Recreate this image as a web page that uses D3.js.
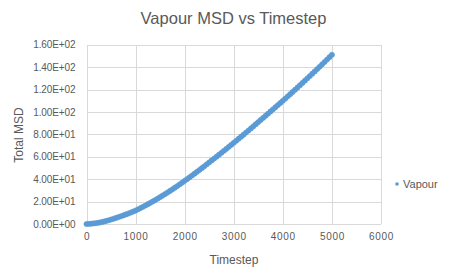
<!DOCTYPE html>
<html>
<head>
<meta charset="utf-8">
<script src="https://cdn.jsdelivr.net/npm/d3@7"></script>
<style>
  html, body { margin: 0; padding: 0; background: #ffffff; }
  svg { display: block; font-family: "Liberation Sans", Arial, sans-serif; }
</style>
</head>
<body>
<svg id="chart" width="467" height="278"></svg>
<script>
const chartTitle = "Vapour MSD vs Timestep";
const xAxisTitle = "Timestep";
const yAxisTitle = "Total MSD";
const seriesName = "Vapour";

const xTicks = [0, 1000, 2000, 3000, 4000, 5000, 6000];
const yTicks = [0, 20, 40, 60, 80, 100, 120, 140, 160];
const yTickLabels = ["0.00E+00", "2.00E+01", "4.00E+01", "6.00E+01", "8.00E+01",
                     "1.00E+02", "1.20E+02", "1.40E+02", "1.60E+02"];

const timesteps = [
  0, 50, 100, 150, 200, 250, 300, 350, 400, 450,
  500, 550, 600, 650, 700, 750, 800, 850, 900, 950,
  1000, 1050, 1100, 1150, 1200, 1250, 1300, 1350, 1400, 1450,
  1500, 1550, 1600, 1650, 1700, 1750, 1800, 1850, 1900, 1950,
  2000, 2050, 2100, 2150, 2200, 2250, 2300, 2350, 2400, 2450,
  2500, 2550, 2600, 2650, 2700, 2750, 2800, 2850, 2900, 2950,
  3000, 3050, 3100, 3150, 3200, 3250, 3300, 3350, 3400, 3450,
  3500, 3550, 3600, 3650, 3700, 3750, 3800, 3850, 3900, 3950,
  4000, 4050, 4100, 4150, 4200, 4250, 4300, 4350, 4400, 4450,
  4500, 4550, 4600, 4650, 4700, 4750, 4800, 4850, 4900, 4950,
  5000
];
const msd = [
  0, 0.12, 0.3, 0.52, 0.8, 1.17, 1.6, 2.12, 2.7, 3.33,
  4.0, 4.68, 5.4, 6.14, 6.9, 7.68, 8.5, 9.33, 10.2, 11.08,
  12.0, 13.08, 14.2, 15.33, 16.5, 17.68, 18.9, 20.13, 21.4, 22.68,
  24.0, 25.33, 26.7, 28.08, 29.5, 30.93, 32.4, 33.88, 35.4, 36.93,
  38.5, 40.06, 41.65, 43.26, 44.9, 46.54, 48.2, 49.86, 51.55, 53.26,
  55.0, 56.69, 58.4, 60.11, 61.85, 63.59, 65.35, 67.11, 68.9, 70.69,
  72.5, 74.29, 76.1, 77.91, 79.75, 81.59, 83.45, 85.31, 87.2, 89.09,
  91.0, 92.87, 94.75, 96.64, 98.55, 100.44, 102.35, 104.24, 106.15, 108.06,
  110.0, 111.94, 113.9, 115.86, 117.85, 119.84, 121.85, 123.86, 125.9, 127.94,
  130.0, 132.04, 134.1, 136.16, 138.25, 140.34, 142.45, 144.56, 146.7, 148.84,
  151.0
];

const svg = d3.select("#chart");
const plot = { left: 86.5, right: 381, top: 44.7, bottom: 224 };
const blue = "#5B9BD5";
const grid = "#D9D9D9";
const textCol = "#595959";

const x = d3.scaleLinear().domain([0, 6000]).range([plot.left, plot.right]);
const y = d3.scaleLinear().domain([0, 160]).range([plot.bottom, plot.top]);

// gridlines via axes
const yGrid = d3.axisLeft(y).tickValues(yTicks).tickSize(-(plot.right - plot.left)).tickFormat("");
svg.append("g").attr("transform", `translate(${plot.left},0)`).call(yGrid)
  .call(g => g.select(".domain").remove())
  .call(g => g.selectAll("line").attr("stroke", grid).attr("stroke-width", 1).attr("shape-rendering", "crispEdges"));

const xGrid = d3.axisBottom(x).tickValues(xTicks).tickSize(-(plot.bottom - plot.top)).tickFormat("");
svg.append("g").attr("transform", `translate(0,${plot.bottom})`).call(xGrid)
  .call(g => g.select(".domain").remove())
  .call(g => g.selectAll("line").attr("stroke", grid).attr("stroke-width", 1).attr("shape-rendering", "crispEdges"));

// tick labels
const yAx = d3.axisLeft(y).tickValues(yTicks).tickSize(0).tickPadding(11)
  .tickFormat((d, i) => yTickLabels[i]);
svg.append("g").attr("transform", `translate(${plot.left},0)`).call(yAx)
  .call(g => g.select(".domain").remove())
  .call(g => g.selectAll("text").attr("fill", textCol).attr("font-size", 10)
    .attr("letter-spacing", "-0.1px")
    .attr("font-family", "Liberation Sans, Arial, sans-serif"));

const xAx = d3.axisBottom(x).tickValues(xTicks).tickSize(0).tickPadding(9)
  .tickFormat(d3.format("d"));
svg.append("g").attr("transform", `translate(0,${plot.bottom})`).call(xAx)
  .call(g => g.select(".domain").remove())
  .call(g => g.selectAll("text").attr("fill", textCol).attr("font-size", 10)
    .attr("letter-spacing", "0.7px")
    .attr("font-family", "Liberation Sans, Arial, sans-serif"));

// markers
const pts = timesteps.map((t, i) => ({ t, v: msd[i] }));
svg.append("g").selectAll("circle").data(pts).join("circle")
  .attr("cx", d => x(d.t)).attr("cy", d => y(d.v)).attr("r", 2.6)
  .attr("fill", blue).attr("stroke", blue).attr("stroke-width", 0.6);

// titles
svg.append("text").attr("x", 233.5).attr("y", 24).attr("text-anchor", "middle")
  .attr("font-size", 16.5).attr("fill", textCol).text(chartTitle);
svg.append("text").attr("x", 234).attr("y", 264).attr("text-anchor", "middle")
  .attr("font-size", 12).attr("fill", textCol).text(xAxisTitle);
svg.append("text").attr("transform", "translate(23,135) rotate(-90)").attr("text-anchor", "middle")
  .attr("font-size", 12).attr("fill", textCol).text(yAxisTitle);

// legend
const lg = svg.append("g").attr("transform", "translate(397,184)");
lg.append("circle").attr("cx", 0).attr("cy", 0).attr("r", 1.8).attr("fill", blue);
lg.append("text").attr("x", 6).attr("y", 3.8).attr("font-size", 11).attr("fill", textCol).text(seriesName);
</script>
</body>
</html>
